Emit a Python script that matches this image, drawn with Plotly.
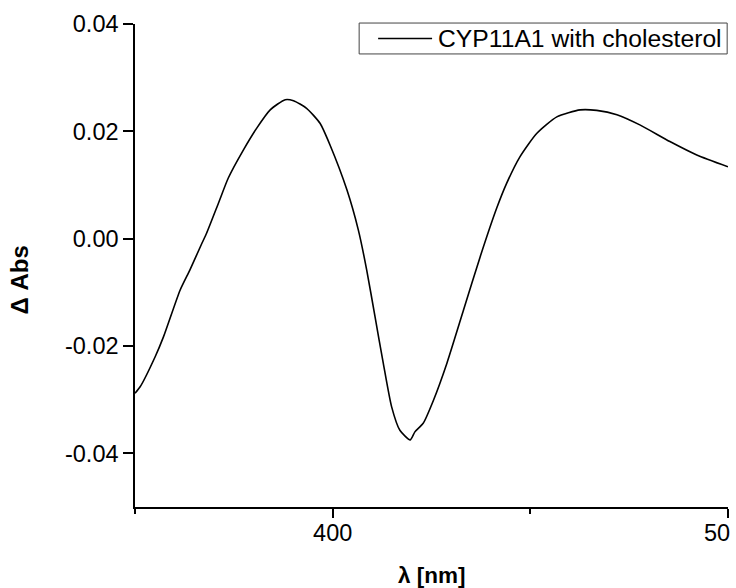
import plotly.graph_objects as go

# Difference absorption spectrum of CYP11A1 after cholesterol addition
wavelength = [350.0, 351.3, 355.1, 357.2, 361.4, 363.9, 366.9, 368.1, 371.1, 373.6,
              377.4, 380.8, 384.2, 388.0, 390.1, 393.4, 396.8, 399.3, 403.6, 406.5,
              408.6, 410.7, 412.8, 414.9, 417.0, 419.6, 420.8, 422.9, 425.5, 428.9,
              433.1, 437.3, 441.5, 444.0, 447.4, 451.6, 456.7, 462.6, 466.8, 471.9,
              477.7, 485.3, 492.1, 500.0]
delta_abs = [-0.0288, -0.0276, -0.0220, -0.0183, -0.0096, -0.0058, -0.0009, 0.0010, 0.0066, 0.0113,
             0.0165, 0.0206, 0.0240, 0.0259, 0.0257, 0.0243, 0.0215, 0.0175, 0.0091, 0.0016,
             -0.0058, -0.0145, -0.0232, -0.0313, -0.0357, -0.0375, -0.0360, -0.0344, -0.0301, -0.0232,
             -0.0133, -0.0034, 0.0057, 0.0103, 0.0153, 0.0196, 0.0227, 0.0240, 0.0239, 0.0231,
             0.0212, 0.0181, 0.0156, 0.0134]

x_tickvals = [400, 500]
x_ticktext = ["400", ""]
edge_label = "50"          # truncated label at the right end of the wavelength axis
y_tickvals = [-0.04, -0.02, 0.00, 0.02, 0.04]
y_ticktext = ["-0.04", "-0.02", "0.00", "0.02", "0.04"]
series_name = "CYP11A1 with cholesterol"

FONT = "Liberation Sans, Arial, sans-serif"

fig = go.Figure()
fig.add_trace(go.Scatter(
    x=wavelength, y=delta_abs, mode="lines",
    line=dict(color="black", width=1.6, shape="spline", smoothing=0.6),
    name=series_name, showlegend=False,
))

fig.update_layout(
    width=736, height=588,
    margin=dict(l=135, r=8, t=24, b=81),
    paper_bgcolor="white", plot_bgcolor="white",
    font=dict(family=FONT, color="black", size=23),
    showlegend=False,
)

fig.update_xaxes(
    range=[350, 500],
    tickvals=x_tickvals, ticktext=x_ticktext,
    ticks="outside", ticklen=9, tickwidth=1.5, tickcolor="black",
    minor=dict(tickvals=[350, 450], ticks="outside", ticklen=5, tickwidth=1.5, tickcolor="black"),
    showline=True, linecolor="black", linewidth=1.5,
    showgrid=False, zeroline=False,
    automargin=False, ticklabelstandoff=-5,
    tickfont=dict(family=FONT, size=23.5),
)
fig.update_yaxes(
    range=[-0.05, 0.04],
    tickvals=y_tickvals, ticktext=y_ticktext,
    ticks="outside", ticklen=10, tickwidth=1.5, tickcolor="black",
    showline=True, linecolor="black", linewidth=1.5,
    showgrid=False, zeroline=False, automargin=False,
    tickfont=dict(family=FONT, size=23.5),
)

fig.add_annotation(
    text=edge_label, xref="paper", yref="paper",
    x=1.0067, y=-0.053, xanchor="right", yanchor="middle",
    showarrow=False, font=dict(family=FONT, size=23.5),
)

# Legend box with a long line sample
fig.add_shape(type="rect", xref="paper", yref="paper",
              x0=0.378, x1=0.9986, y0=0.938, y1=1.002,
              line=dict(color="#444444", width=1), fillcolor="white", layer="above")
fig.add_shape(type="line", xref="paper", yref="paper",
              x0=0.410, x1=0.501, y0=0.970, y1=0.970,
              line=dict(color="black", width=1.6), layer="above")
fig.add_annotation(
    text=series_name, xref="paper", yref="paper",
    x=0.508, y=0.970, xanchor="left", yanchor="middle",
    showarrow=False, font=dict(family=FONT, size=24.7),
)

# Axis titles
fig.add_annotation(
    text="<b>λ [nm]</b>", xref="paper", yref="paper",
    x=0.5, y=-0.142, xanchor="center", yanchor="middle",
    showarrow=False, font=dict(family=FONT, size=22.5),
)
fig.add_annotation(
    text="<b>Δ Abs</b>", xref="paper", yref="paper",
    x=-0.194, y=0.471, xanchor="center", yanchor="middle", textangle=-90,
    showarrow=False, font=dict(family=FONT, size=24),
)

fig.write_html("out.html")
